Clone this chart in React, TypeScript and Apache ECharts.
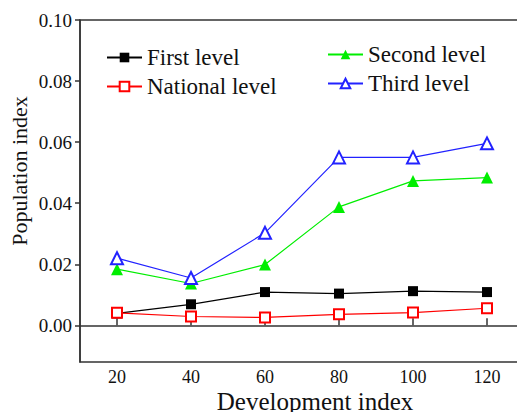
import React, { useEffect, useRef } from "react";
import * as echarts from "echarts";

const categories = [20, 40, 60, 80, 100, 120];
const firstLevel = [0.0039, 0.0069, 0.0109, 0.0104, 0.0112, 0.0109];
const nationalLevel = [0.0041, 0.0029, 0.0026, 0.0036, 0.0042, 0.0056];
const secondLevel = [0.0184, 0.0137, 0.0199, 0.0388, 0.0473, 0.0484];
const thirdLevel = [0.022, 0.0155, 0.0303, 0.055, 0.055, 0.0596];
const yTicks = [0, 0.02, 0.04, 0.06, 0.08, 0.1];
const xTicks = [20, 40, 60, 80, 100, 120];

const FONT = "'Liberation Serif', 'Times New Roman', serif";

export default function App() {
  const ref = useRef<HTMLDivElement>(null);
  useEffect(() => {
    if (!ref.current) return;
    const chart = echarts.init(ref.current, null, { renderer: "svg" });
    const pair = (vals: number[]) => categories.map((c, i) => [c, vals[i]]);
    chart.setOption({
      animation: false,
      backgroundColor: "#fff",
      textStyle: { fontFamily: FONT },
      grid: {
        left: 80,
        top: 20,
        right: -7,
        bottom: 50,
        outerBoundsMode: "none",
        containLabel: false,
        show: true,
        borderColor: "#333",
        borderWidth: 1.5,
      },
      legend: [
        {
          data: ["First level", "National level"],
          orient: "vertical",
          left: 101,
          top: 41,
          itemWidth: 35,
          itemHeight: 12,
          itemGap: 6,
          textStyle: { fontFamily: FONT, fontSize: 23, color: "#111" },
        },
        {
          data: ["Second level", "Third level"],
          orient: "vertical",
          left: 322,
          top: 38,
          itemWidth: 35,
          itemHeight: 12,
          itemGap: 6,
          textStyle: { fontFamily: FONT, fontSize: 23, color: "#111" },
        },
      ],
      xAxis: {
        type: "value",
        min: 10,
        max: 130,
        name: "Development index",
        nameLocation: "middle",
        nameGap: 27,
        nameMoveOverlap: false,
        nameTextStyle: { fontFamily: FONT, fontSize: 25, color: "#111", padding: [0, 0, 0, 26] },
        axisLine: { show: true, lineStyle: { color: "#333", width: 1.5 } },
        axisTick: { show: true, inside: true, length: 7, customValues: xTicks, lineStyle: { color: "#333", width: 1.5 } },
        axisLabel: { customValues: xTicks, fontFamily: FONT, fontSize: 18, color: "#111", margin: 6 },
        splitLine: { show: false },
      },
      yAxis: {
        type: "value",
        min: -0.012,
        max: 0.1,
        name: "Population index",
        nameLocation: "middle",
        nameGap: 50,
        nameMoveOverlap: false,
        nameTextStyle: { fontFamily: FONT, fontSize: 22, color: "#111", padding: [0, 0, 0, 40] },
        axisLine: { show: true, lineStyle: { color: "#333", width: 1.5 } },
        axisTick: { show: true, inside: false, length: 5, customValues: yTicks, lineStyle: { color: "#333", width: 1.5 } },
        axisLabel: {
          customValues: yTicks,
          fontFamily: FONT,
          fontSize: 19,
          color: "#111",
          margin: 8,
          formatter: (v: number) => v.toFixed(2),
        },
        splitLine: { show: false },
      },
      series: [
        {
          name: "First level",
          type: "line",
          data: pair(firstLevel),
          symbol: "rect",
          symbolSize: 10,
          itemStyle: { color: "#000" },
          lineStyle: { color: "#000", width: 1.2 },
        },
        {
          name: "National level",
          type: "line",
          data: pair(nationalLevel),
          symbol: "emptyRect",
          symbolSize: 10,
          itemStyle: { color: "#ff0000", borderWidth: 1.3 },
          lineStyle: { color: "#ff0000", width: 1.2 },
        },
        {
          name: "Second level",
          type: "line",
          data: pair(secondLevel),
          symbol: "triangle",
          symbolSize: 12,
          itemStyle: { color: "#00ee00" },
          lineStyle: { color: "#00ee00", width: 1.2 },
        },
        {
          name: "Third level",
          type: "line",
          data: pair(thirdLevel),
          symbol: "emptyTriangle",
          symbolSize: 12,
          itemStyle: { color: "#2222ff", borderWidth: 1.3 },
          lineStyle: { color: "#2222ff", width: 1.2 },
        },
      ],
    });
    return () => chart.dispose();
  }, []);
  return <div ref={ref} style={{ position: "absolute", left: 0, top: 0, width: 517, height: 412 }} />;
}
